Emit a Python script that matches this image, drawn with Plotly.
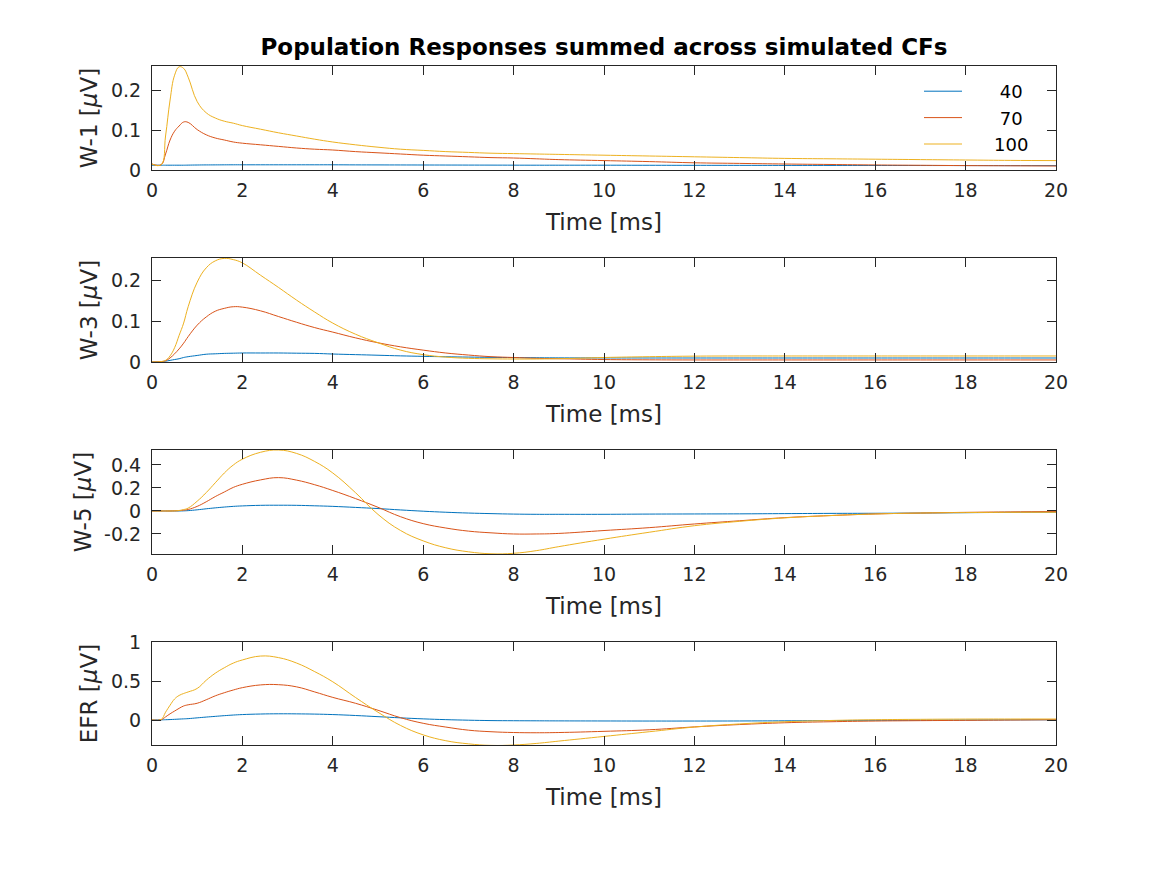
import plotly.graph_objects as go

# Time grid [ms]
t = [0, 0.2, 0.3, 0.4, 0.5, 0.6, 0.7, 0.8, 1.0, 1.2, 1.4, 1.6, 1.8, 2.0, 2.4, 2.8,
     3.2, 3.6, 4.0, 4.5, 5.0, 5.5, 6.0, 6.5, 7.0, 7.5, 8.0, 8.5, 9, 10, 11, 12, 13,
     14, 15, 16, 17, 18, 19, 20]

levels = ["40", "70", "100"]
legend_labels = ["\u2002\u2002\u2002\u00a040", "\u2002\u2002\u2002\u00a070", "\u2002\u2002\u2002100"]

# W-1
w1_40 = [0.012, 0.012, 0.012, 0.012, 0.012, 0.012, 0.012, 0.0122, 0.0125, 0.0127, 0.0128,
         0.0129, 0.013, 0.013, 0.013, 0.013, 0.013, 0.013, 0.013, 0.0128, 0.0127, 0.0126,
         0.0125, 0.0124, 0.0123, 0.0122, 0.0121, 0.012, 0.012, 0.012, 0.0118, 0.0117,
         0.0116, 0.0115, 0.0114, 0.0113, 0.0112, 0.0111, 0.011, 0.011]
w1_70 = [0.015, 0.013, 0.04, 0.075, 0.097, 0.11, 0.12, 0.119, 0.101, 0.088, 0.08, 0.075,
         0.07, 0.067, 0.063, 0.059, 0.055, 0.052, 0.05, 0.046, 0.043, 0.04, 0.037, 0.035,
         0.033, 0.031, 0.030, 0.028, 0.026, 0.0235, 0.021, 0.018, 0.0165, 0.015, 0.0138,
         0.0126, 0.0118, 0.011, 0.0105, 0.010]
w1_100 = [0.015, 0.013, 0.085, 0.175, 0.237, 0.258, 0.254, 0.232, 0.171, 0.143, 0.13,
          0.122, 0.117, 0.111, 0.102, 0.093, 0.085, 0.077, 0.070, 0.063, 0.057, 0.052,
          0.049, 0.046, 0.044, 0.042, 0.041, 0.040, 0.039, 0.037, 0.035, 0.033, 0.031,
          0.029, 0.028, 0.027, 0.026, 0.025, 0.024, 0.0235]

# W-3
w3_40 = [0, 0.001, 0.002, 0.004, 0.006, 0.008, 0.011, 0.013, 0.016, 0.019, 0.02, 0.021,
         0.0215, 0.022, 0.022, 0.022, 0.0215, 0.021, 0.0195, 0.018, 0.0165, 0.015, 0.0138,
         0.0128, 0.012, 0.0113, 0.0108, 0.0104, 0.0101, 0.0099, 0.0098, 0.0098, 0.0098,
         0.0098, 0.0098, 0.0098, 0.0098, 0.0098, 0.0098, 0.0098]
w3_70 = [0, 0.001, 0.003, 0.01, 0.02, 0.032, 0.046, 0.062, 0.09, 0.11, 0.124, 0.131, 0.135,
         0.134, 0.125, 0.111, 0.097, 0.084, 0.073, 0.059, 0.047, 0.037, 0.029, 0.022, 0.017,
         0.013, 0.011, 0.009, 0.008, 0.006, 0.0053, 0.005, 0.005, 0.005, 0.005, 0.005,
         0.005, 0.005, 0.005, 0.005]
w3_100 = [0, 0.001, 0.004, 0.015, 0.035, 0.065, 0.095, 0.135, 0.195, 0.23, 0.247, 0.253,
          0.25, 0.242, 0.212, 0.182, 0.151, 0.122, 0.095, 0.068, 0.047, 0.029, 0.018, 0.012,
          0.009, 0.0078, 0.0073, 0.0073, 0.008, 0.011, 0.013, 0.0143, 0.0147, 0.0147,
          0.0147, 0.0147, 0.0147, 0.0147, 0.0147, 0.0147]

# W-5
w5_40 = [0, 0, 0, 0, 0, 0, 0.001, 0.003, 0.01, 0.019, 0.027, 0.034, 0.04, 0.044, 0.049,
         0.05, 0.049, 0.045, 0.04, 0.031, 0.021, 0.009, -0.002, -0.011, -0.018, -0.023,
         -0.027, -0.029, -0.029, -0.029, -0.027, -0.026, -0.025, -0.023, -0.021, -0.02,
         -0.018, -0.015, -0.012, -0.01]
w5_70 = [0, 0, 0, 0, 0.001, 0.003, 0.007, 0.013, 0.04, 0.08, 0.125, 0.165, 0.205, 0.232,
         0.27, 0.29, 0.268, 0.228, 0.178, 0.108, 0.032, -0.05, -0.11, -0.148, -0.175, -0.19,
         -0.2, -0.2, -0.195, -0.17, -0.145, -0.113, -0.085, -0.058, -0.04, -0.026, -0.018,
         -0.012, -0.008, -0.005]
w5_100 = [0, 0, 0, 0, 0.001, 0.004, 0.012, 0.025, 0.085, 0.16, 0.245, 0.33, 0.4, 0.45,
          0.51, 0.53, 0.5, 0.43, 0.33, 0.16, -0.03, -0.17, -0.26, -0.32, -0.355, -0.372,
          -0.368, -0.345, -0.31, -0.245, -0.185, -0.128, -0.09, -0.06, -0.04, -0.026,
          -0.018, -0.014, -0.012, -0.011]

# EFR
efr_40 = [0, 0.002, 0.004, 0.006, 0.009, 0.012, 0.015, 0.018, 0.028, 0.038, 0.047, 0.056,
          0.064, 0.07, 0.077, 0.08, 0.079, 0.076, 0.07, 0.058, 0.043, 0.028, 0.015, 0.005,
          -0.002, -0.007, -0.009, -0.01, -0.011, -0.012, -0.013, -0.013, -0.012, -0.01,
          -0.007, -0.004, -0.002, 0, 0.002, 0.003]
efr_70 = [0, 0.003, 0.04, 0.08, 0.115, 0.15, 0.18, 0.195, 0.215, 0.26, 0.31, 0.35, 0.385,
          0.415, 0.45, 0.453, 0.425, 0.36, 0.29, 0.215, 0.125, 0.03, -0.042, -0.09, -0.13,
          -0.15, -0.16, -0.163, -0.16, -0.145, -0.125, -0.088, -0.058, -0.035, -0.022,
          -0.013, -0.008, -0.004, 0, 0.004]
efr_100 = [0, 0.005, 0.1, 0.19, 0.27, 0.315, 0.34, 0.36, 0.405, 0.51, 0.6, 0.67, 0.73,
           0.77, 0.82, 0.80, 0.73, 0.62, 0.49, 0.29, 0.1, -0.07, -0.19, -0.265, -0.305,
           -0.325, -0.32, -0.3, -0.27, -0.21, -0.15, -0.09, -0.05, -0.022, -0.006, 0.004,
           0.009, 0.012, 0.013, 0.013]

panels = [
    ("W-1", [w1_40, w1_70, w1_100], [0, 0.26], [0, 0.1, 0.2], ["0", "0.1", "0.2"]),
    ("W-3", [w3_40, w3_70, w3_100], [0, 0.254], [0, 0.1, 0.2], ["0", "0.1", "0.2"]),
    ("W-5", [w5_40, w5_70, w5_100], [-0.374, 0.53], [-0.2, 0, 0.2, 0.4], ["-0.2", "0", "0.2", "0.4"]),
    ("EFR", [efr_40, efr_70, efr_100], [-0.32, 1.0], [0, 0.5, 1], ["0", "0.5", "1"]),
]
x_ticks = [0, 2, 4, 6, 8, 10, 12, 14, 16, 18, 20]

colors = ["#0072BD", "#D95319", "#EDB120"]
W, H = 1167, 875
OFF = 8  # page offset of the plot inside the window
x_dom = [(152 - OFF) / W, (1056 - OFF) / W]
y_px = [(66, 170), (258, 362), (450, 554), (642, 745)]

fig = go.Figure()
TXT = "#262626"
FONT = "DejaVu Sans"

layout = dict(
    width=W, height=H, margin=dict(l=0, r=0, t=0, b=0),
    paper_bgcolor="white", plot_bgcolor="white",
    font=dict(family=FONT, size=18, color=TXT),
    showlegend=True,
    legend=dict(x=(919 - OFF) / W, y=1 - (73 - OFF) / H, xanchor="left", yanchor="top",
                bgcolor="rgba(255,255,255,0)", borderwidth=0, itemwidth=38,
                font=dict(size=18, color="black"), tracegroupgap=0),
    title=dict(text="<b>Population Responses summed across simulated CFs</b>",
               x=(604 - OFF) / W, xanchor="center", y=1 - (47 - OFF) / H, yanchor="middle",
               font=dict(family=FONT, size=23, color="black")),
)

for i, (name, series, yr, yt, ytt) in enumerate(panels):
    k = "" if i == 0 else str(i + 1)
    top, bot = y_px[i]
    for j, vals in enumerate(series):
        fig.add_trace(go.Scatter(
            x=t, y=vals, mode="lines", name=legend_labels[j],
            legendgroup=levels[j], showlegend=(i == 0),
            line=dict(color=colors[j], width=1, shape="spline", smoothing=1.2),
            xaxis="x" + k, yaxis="y" + k, cliponaxis=True))
    axis_common = dict(showline=True, linecolor=TXT, linewidth=1, mirror="ticks",
                       ticks="inside", ticklen=9, tickcolor=TXT, tickwidth=1,
                       showgrid=False, zeroline=False, automargin=False,
                       tickfont=dict(size=19, color=TXT))
    layout["xaxis" + k] = dict(domain=x_dom, range=[0, 20], tickvals=x_ticks,
                               anchor="y" + k, ticklabelstandoff=3,
                               title=dict(text="Time [ms]", font=dict(size=23, color=TXT), standoff=14),
                               **axis_common)
    layout["yaxis" + k] = dict(domain=[1 - (bot - OFF) / H, 1 - (top - OFF) / H], range=yr,
                               tickvals=yt, ticktext=ytt, anchor="x" + k, ticklabelstandoff=6,
                               title=dict(text=name + " [<i>μ</i>V]", font=dict(size=23, color=TXT), standoff=6),
                               **axis_common)

fig.update_layout(**layout)
fig.write_html("out.html")
